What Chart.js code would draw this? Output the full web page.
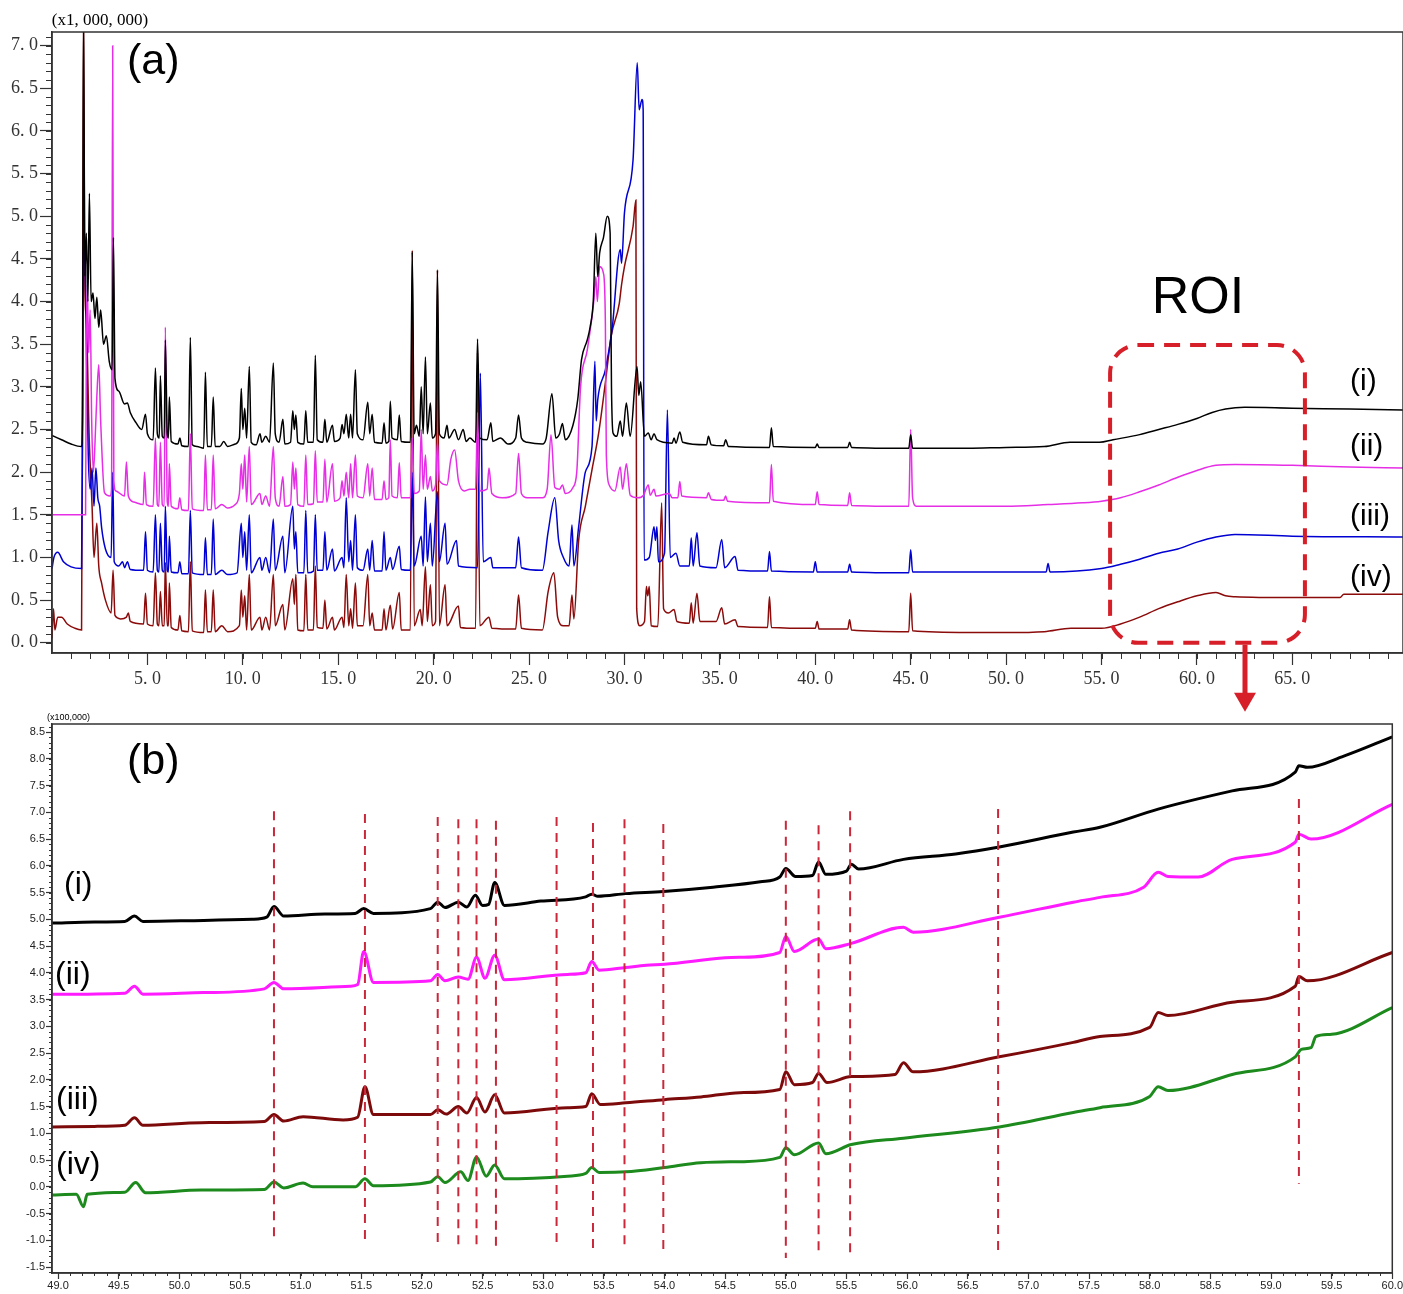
<!DOCTYPE html>
<html>
<head>
<meta charset="utf-8">
<script src="https://cdn.jsdelivr.net/npm/chart.js@4.4.1/dist/chart.umd.min.js"></script>
<style>
  body { margin: 0; background: #fff; }
  #wrap { position: relative; width: 1403px; height: 1294px; }
  #chartA { position: absolute; left: 0; top: 0; }
  #chartB { position: absolute; left: 0; top: 700px; }
</style>
</head>
<body>
<div id="wrap">
  <canvas id="chartA" width="1403" height="720"></canvas>
  <canvas id="chartB" width="1403" height="594"></canvas>
</div>
<script>
// ---------- (a) full chromatogram, retention time [min] vs intensity (x1,000,000) ----------
var xTicksA = [5, 10, 15, 20, 25, 30, 35, 40, 45, 50, 55, 60, 65];
var yTicksA = [0, 0.5, 1, 1.5, 2, 2.5, 3, 3.5, 4, 4.5, 5, 5.5, 6, 6.5, 7];

var traceA_i = [[0,2.43],[0.5,2.38],[1.0,2.33],[1.55,2.3],[1.6,2.7],[1.65,7.4],[1.72,4.3],[1.8,4.8],[1.88,4.0],[1.96,5.27],[2.05,4.0],[2.15,4.1],[2.25,3.8],[2.35,4.05],[2.45,3.7],[2.55,3.9],[2.7,3.5],[2.85,3.6],[3.0,3.3],[3.15,3.2],[3.22,4.75],[3.3,3.1],[3.5,2.95],[3.8,2.8],[3.95,2.81],[4.1,2.7],[4.4,2.58],[4.7,2.5],[4.9,2.68],[5.0,2.45],[5.3,2.38],[5.42,3.22],[5.52,2.45],[5.62,2.4],[5.68,3.13],[5.78,2.42],[5.88,2.4],[5.94,3.55],[6.04,2.45],[6.1,2.4],[6.15,2.88],[6.25,2.36],[6.6,2.33],[6.7,2.4],[6.8,2.31],[7.15,2.3],[7.25,3.58],[7.35,2.32],[7.6,2.3],[7.95,2.28],[8.04,3.17],[8.14,2.3],[8.35,2.3],[8.45,2.88],[8.55,2.3],[8.8,2.3],[9.0,2.36],[9.2,2.3],[9.6,2.33],[9.82,2.4],[9.92,2.98],[10.0,2.5],[10.1,2.75],[10.2,2.4],[10.34,3.24],[10.44,2.35],[10.7,2.32],[10.9,2.45],[11.0,2.35],[11.2,2.42],[11.4,2.35],[11.6,3.28],[11.7,2.45],[11.9,2.35],[12.1,2.62],[12.2,2.33],[12.5,2.35],[12.62,2.72],[12.7,2.5],[12.78,2.67],[12.88,2.35],[13.2,2.33],[13.3,2.72],[13.4,2.35],[13.7,2.35],[13.8,3.37],[13.9,2.38],[14.2,2.35],[14.3,2.62],[14.4,2.35],[14.7,2.55],[14.8,2.36],[15.1,2.4],[15.2,2.56],[15.3,2.45],[15.42,2.68],[15.55,2.4],[15.65,2.68],[15.75,2.4],[15.9,3.2],[16.0,2.45],[16.3,2.38],[16.55,2.82],[16.65,2.45],[16.78,2.68],[16.9,2.35],[17.3,2.34],[17.4,2.58],[17.5,2.34],[17.65,2.36],[17.73,2.83],[17.82,2.4],[18.1,2.38],[18.2,2.67],[18.3,2.36],[18.78,2.35],[18.88,4.58],[18.98,2.45],[19.1,2.55],[19.25,2.42],[19.35,3.0],[19.45,2.45],[19.57,3.35],[19.67,2.45],[19.83,2.81],[19.93,2.4],[20.1,2.45],[20.2,4.37],[20.3,2.45],[20.55,2.4],[20.7,2.55],[20.8,2.4],[21.1,2.5],[21.3,2.38],[21.55,2.5],[21.7,2.36],[21.9,2.4],[22.2,2.35],[22.3,3.56],[22.42,2.4],[22.8,2.38],[23.0,2.58],[23.1,2.36],[23.5,2.4],[23.9,2.33],[24.3,2.4],[24.45,2.67],[24.6,2.4],[24.9,2.35],[25.7,2.33],[25.9,2.4],[26.2,2.92],[26.4,2.4],[26.6,2.45],[26.75,2.57],[26.9,2.38],[27.3,2.55],[27.55,2.85],[27.75,3.32],[28.05,3.55],[28.2,3.7],[28.37,4.02],[28.5,4.8],[28.6,4.29],[28.7,4.57],[28.9,4.75],[29.1,5.0],[29.25,4.8],[29.32,3.0],[29.4,2.46],[29.6,2.42],[29.78,2.6],[29.9,2.42],[30.1,2.81],[30.3,2.42],[30.66,3.24],[30.75,2.9],[30.85,3.06],[31.05,2.42],[31.25,2.46],[31.4,2.38],[31.55,2.45],[31.7,2.38],[32.5,2.34],[32.6,2.4],[32.7,2.34],[32.9,2.47],[33.05,2.35],[34.3,2.32],[34.4,2.42],[34.55,2.32],[35.2,2.31],[35.3,2.38],[35.45,2.3],[37.6,2.29],[37.7,2.52],[37.8,2.3],[40.0,2.29],[40.1,2.33],[40.2,2.29],[41.7,2.29],[41.8,2.35],[41.9,2.29],[44.9,2.28],[45.0,2.44],[45.1,2.28],[48.0,2.28],[50.0,2.29],[52.0,2.3],[53.35,2.35],[54.9,2.35],[55.6,2.38],[57.0,2.44],[58.0,2.5],[59.0,2.56],[60.0,2.63],[60.8,2.7],[61.5,2.74],[62.5,2.76],[65.0,2.75],[68.0,2.74],[70.8,2.73]];

var traceA_ii = [[0,1.5],[1.76,1.5],[1.8,3.5],[1.85,4.2],[1.92,3.4],[2.0,3.9],[2.08,2.6],[2.17,2.0],[2.28,2.5],[2.35,2.89],[2.45,3.26],[2.55,2.6],[2.75,1.76],[3.05,1.72],[3.12,1.8],[3.18,7.0],[3.24,1.9],[3.35,1.78],[3.8,1.72],[3.9,2.12],[4.0,1.72],[4.3,1.65],[4.78,1.62],[4.85,2.0],[4.95,1.62],[5.3,1.6],[5.42,2.4],[5.52,1.62],[5.6,1.6],[5.68,2.35],[5.78,1.62],[5.88,1.6],[5.94,3.7],[6.04,1.65],[6.1,1.6],[6.15,2.1],[6.25,1.6],[6.6,1.57],[6.7,1.7],[6.8,1.56],[7.15,1.55],[7.25,2.45],[7.35,1.57],[7.95,1.55],[8.04,2.2],[8.14,1.56],[8.35,1.56],[8.45,2.2],[8.55,1.57],[8.9,1.62],[9.2,1.58],[9.6,1.62],[9.82,1.75],[9.92,2.1],[10.0,1.8],[10.1,2.2],[10.2,1.65],[10.34,2.3],[10.44,1.62],[10.9,1.75],[11.0,1.62],[11.2,1.72],[11.4,1.6],[11.6,2.3],[11.7,1.7],[11.9,1.6],[12.1,1.95],[12.2,1.6],[12.5,1.62],[12.62,2.12],[12.7,1.8],[12.78,2.05],[12.88,1.62],[13.2,1.6],[13.3,2.2],[13.4,1.62],[13.7,1.63],[13.8,2.25],[13.9,1.65],[14.2,1.65],[14.3,2.15],[14.4,1.65],[14.7,2.1],[14.8,1.66],[15.1,1.7],[15.2,1.9],[15.3,1.72],[15.42,2.0],[15.55,1.7],[15.65,2.1],[15.75,1.7],[15.9,2.2],[16.0,1.72],[16.3,1.7],[16.55,2.1],[16.65,1.72],[16.78,2.05],[16.9,1.68],[17.3,1.68],[17.4,1.9],[17.5,1.68],[17.65,1.7],[17.73,2.38],[17.82,1.72],[18.1,1.7],[18.2,2.11],[18.3,1.7],[18.78,1.7],[18.88,2.4],[18.98,1.75],[19.25,1.78],[19.35,2.5],[19.45,1.8],[19.57,2.2],[19.67,1.8],[19.83,1.95],[19.93,1.78],[20.1,1.85],[20.2,2.35],[20.3,1.9],[20.7,1.85],[20.9,2.15],[21.1,2.26],[21.3,1.9],[21.6,1.78],[21.9,1.8],[22.2,1.8],[22.3,2.7],[22.42,1.78],[22.8,1.8],[22.9,2.05],[23.05,1.75],[23.6,1.7],[24.3,1.75],[24.45,2.22],[24.6,1.75],[24.9,1.7],[25.7,1.7],[25.95,1.8],[26.15,2.44],[26.35,1.82],[26.6,1.8],[26.75,1.85],[26.9,1.75],[27.3,1.82],[27.5,2.0],[27.7,3.0],[28.05,3.43],[28.4,4.02],[28.5,4.29],[28.58,4.0],[28.7,4.41],[28.9,4.33],[29.0,3.75],[29.05,2.2],[29.2,1.85],[29.5,1.78],[29.78,2.06],[29.9,1.8],[30.1,2.1],[30.3,1.73],[30.7,1.7],[31.0,1.73],[31.25,1.85],[31.35,1.73],[31.55,1.8],[31.65,1.72],[32.35,1.75],[32.5,1.7],[32.8,1.7],[32.9,1.89],[33.0,1.72],[34.3,1.7],[34.4,1.76],[34.55,1.68],[35.2,1.67],[35.3,1.72],[35.4,1.66],[37.6,1.64],[37.7,2.09],[37.8,1.66],[40.0,1.62],[40.1,1.77],[40.2,1.62],[41.7,1.61],[41.8,1.76],[41.9,1.61],[44.9,1.6],[45.0,2.5],[45.1,1.7],[45.3,1.6],[48.0,1.6],[50.0,1.6],[52.2,1.62],[54.0,1.64],[55.0,1.66],[56.0,1.7],[57.0,1.77],[58.0,1.85],[59.0,1.94],[60.0,2.02],[61.0,2.08],[62.0,2.09],[65.0,2.08],[68.0,2.06],[70.8,2.05]];

var traceA_iii = [[0,0.87],[0.1,1.0],[0.3,1.06],[0.6,0.95],[1.0,0.89],[1.55,0.87],[1.6,2.5],[1.65,4.85],[1.72,4.7],[1.8,3.5],[1.9,2.2],[2.0,1.8],[2.1,2.05],[2.2,1.6],[2.3,2.05],[2.4,1.7],[2.5,1.6],[2.6,1.35],[2.8,1.1],[3.1,1.0],[3.18,2.0],[3.26,0.95],[3.5,0.9],[3.7,0.95],[3.8,0.88],[3.95,0.95],[4.1,0.86],[4.8,0.85],[4.9,1.3],[5.0,0.85],[5.3,0.83],[5.42,1.5],[5.52,0.85],[5.6,0.83],[5.68,1.4],[5.78,0.85],[5.88,0.83],[5.94,1.6],[6.04,0.85],[6.1,0.83],[6.15,1.25],[6.25,0.83],[6.6,0.82],[6.7,0.95],[6.8,0.81],[7.15,0.81],[7.25,1.55],[7.35,0.82],[7.95,0.8],[8.04,1.23],[8.14,0.8],[8.35,0.8],[8.45,1.45],[8.55,0.8],[8.9,0.85],[9.2,0.8],[9.7,0.82],[9.92,1.4],[10.0,1.0],[10.1,1.3],[10.2,0.85],[10.34,1.5],[10.44,0.82],[10.9,1.0],[11.0,0.85],[11.2,1.0],[11.4,0.82],[11.6,1.45],[11.7,0.85],[12.1,1.25],[12.2,0.82],[12.62,1.6],[12.7,1.1],[12.78,1.3],[12.88,0.82],[13.2,0.82],[13.3,1.55],[13.4,0.82],[13.7,0.84],[13.8,1.5],[13.9,0.85],[14.2,0.85],[14.3,1.3],[14.4,0.85],[14.7,1.1],[14.8,0.84],[15.2,1.0],[15.3,0.88],[15.42,1.7],[15.55,0.95],[15.65,1.2],[15.75,0.85],[15.9,1.5],[16.0,0.88],[16.3,0.85],[16.55,1.1],[16.65,0.85],[16.78,1.2],[16.9,0.84],[17.3,0.84],[17.4,1.3],[17.5,0.85],[17.73,1.0],[17.85,0.86],[18.2,1.13],[18.3,0.86],[18.78,0.85],[18.88,2.0],[18.98,0.9],[19.35,1.25],[19.45,0.9],[19.57,1.71],[19.67,0.95],[19.83,1.4],[19.93,0.9],[20.2,1.77],[20.3,0.95],[20.6,1.4],[20.7,0.92],[21.2,1.2],[21.3,0.9],[22.3,0.88],[22.45,3.16],[22.6,0.95],[23.0,1.0],[23.1,0.88],[24.3,0.88],[24.45,1.24],[24.6,0.88],[25.7,0.85],[26.0,1.3],[26.35,1.7],[26.55,1.2],[26.8,1.0],[27.1,0.9],[27.25,1.38],[27.35,0.9],[27.6,1.36],[27.95,2.0],[28.3,2.3],[28.45,3.3],[28.52,2.6],[28.6,2.85],[29.0,3.2],[29.35,3.67],[29.78,4.61],[29.85,4.45],[30.0,5.04],[30.45,5.66],[30.67,6.8],[30.77,6.25],[30.92,6.37],[30.98,6.25],[31.03,0.97],[31.3,1.0],[31.55,1.36],[31.62,1.2],[31.7,1.36],[31.78,0.95],[32.1,1.05],[32.25,2.73],[32.4,1.0],[32.7,1.05],[32.9,0.9],[33.4,0.9],[33.5,1.23],[33.6,0.9],[33.8,1.29],[33.95,0.9],[34.8,0.88],[35.1,1.21],[35.25,0.88],[35.8,1.01],[35.95,0.85],[37.5,0.84],[37.6,1.07],[37.7,0.84],[39.9,0.83],[40.0,0.95],[40.1,0.83],[41.7,0.83],[41.8,0.92],[41.9,0.83],[44.9,0.82],[45.0,1.09],[45.1,0.83],[48.0,0.83],[52.1,0.83],[52.2,0.93],[52.3,0.83],[55.0,0.87],[56.0,0.92],[57.0,0.98],[58.0,1.05],[59.0,1.1],[60.0,1.18],[61.0,1.24],[62.0,1.27],[65.0,1.25],[70.8,1.24]];

var traceA_iv = [[0,0.05],[0.08,0.4],[0.15,0.15],[0.3,0.3],[0.5,0.3],[0.8,0.22],[1.2,0.17],[1.55,0.15],[1.6,3.0],[1.65,7.4],[1.72,4.2],[1.8,3.8],[1.95,2.4],[2.1,1.6],[2.2,1.0],[2.35,1.4],[2.45,0.9],[2.6,0.7],[2.8,0.5],[3.1,0.35],[3.2,0.85],[3.3,0.32],[3.6,0.28],[3.9,0.3],[4.0,0.35],[4.1,0.25],[4.8,0.22],[4.9,0.58],[5.0,0.22],[5.3,0.2],[5.42,0.82],[5.52,0.22],[5.6,0.2],[5.68,0.6],[5.78,0.2],[5.88,0.2],[5.94,0.94],[6.04,0.2],[6.1,0.2],[6.15,0.7],[6.25,0.18],[6.6,0.15],[6.7,0.32],[6.8,0.14],[7.15,0.13],[7.25,0.95],[7.35,0.14],[7.95,0.12],[8.04,0.62],[8.14,0.13],[8.35,0.13],[8.45,0.62],[8.55,0.13],[8.9,0.2],[9.2,0.13],[9.82,0.2],[9.92,0.62],[10.0,0.3],[10.1,0.55],[10.2,0.15],[10.34,0.8],[10.44,0.15],[10.9,0.3],[11.0,0.15],[11.2,0.3],[11.4,0.15],[11.6,0.8],[11.7,0.2],[12.1,0.45],[12.2,0.15],[12.62,0.75],[12.7,0.45],[12.78,0.8],[12.88,0.15],[13.2,0.14],[13.3,0.8],[13.4,0.15],[13.7,0.15],[13.8,0.9],[13.9,0.18],[14.2,0.17],[14.3,0.5],[14.4,0.16],[14.7,0.3],[14.8,0.15],[15.2,0.3],[15.3,0.18],[15.42,0.8],[15.55,0.2],[15.65,0.4],[15.75,0.17],[15.9,0.7],[16.0,0.2],[16.3,0.2],[16.55,0.8],[16.65,0.2],[16.78,0.35],[16.9,0.15],[17.3,0.15],[17.4,0.4],[17.5,0.15],[17.73,0.44],[17.85,0.16],[18.2,0.59],[18.3,0.15],[18.78,0.15],[18.88,4.6],[18.98,0.2],[19.3,0.39],[19.4,0.2],[19.57,0.89],[19.67,0.25],[19.83,0.68],[19.93,0.2],[20.1,0.25],[20.2,4.37],[20.3,0.2],[20.6,0.68],[20.7,0.2],[21.3,0.43],[21.4,0.18],[22.2,0.17],[22.3,3.4],[22.42,0.2],[22.9,0.3],[23.05,0.17],[24.3,0.16],[24.45,0.56],[24.6,0.17],[25.7,0.15],[26.0,0.6],[26.3,0.82],[26.5,0.3],[26.8,0.2],[27.1,0.2],[27.25,0.56],[27.35,0.28],[27.6,1.2],[27.95,1.6],[28.3,2.03],[28.65,2.46],[29.0,3.05],[29.3,3.59],[29.73,3.98],[29.85,4.2],[30.0,4.41],[30.45,4.88],[30.6,5.19],[30.64,0.4],[30.8,0.2],[31.05,0.25],[31.15,0.66],[31.22,0.55],[31.3,0.66],[31.4,0.2],[31.75,0.19],[31.95,1.64],[32.05,0.4],[32.3,0.35],[32.6,0.39],[32.75,0.25],[33.4,0.23],[33.5,0.47],[33.6,0.23],[33.8,0.58],[33.95,0.25],[34.8,0.25],[35.1,0.41],[35.25,0.22],[35.8,0.27],[35.95,0.19],[37.5,0.18],[37.6,0.54],[37.7,0.18],[40.0,0.17],[40.1,0.25],[40.2,0.16],[41.7,0.16],[41.8,0.27],[41.9,0.15],[44.9,0.13],[45.0,0.58],[45.1,0.14],[48.0,0.12],[50.0,0.12],[52.0,0.13],[53.4,0.17],[55.0,0.17],[56.0,0.22],[57.0,0.3],[58.0,0.4],[59.0,0.48],[60.0,0.55],[61.0,0.59],[61.5,0.55],[62.0,0.54],[65.0,0.53],[67.5,0.53],[67.7,0.57],[70.8,0.57]];

// ROI region of (a): time range and intensity range
var roiTime = [55.45, 65.66];
var roiLevel = [0.0, 3.49];

// ---------- (b) zoom of the ROI, intensity (x100,000) ----------
var xTicksB = [49, 49.5, 50, 50.5, 51, 51.5, 52, 52.5, 53, 53.5, 54, 54.5, 55, 55.5, 56, 56.5, 57, 57.5, 58, 58.5, 59, 59.5, 60];
var yTicksB = [-1.5, -1, -0.5, 0, 0.5, 1, 1.5, 2, 2.5, 3, 3.5, 4, 4.5, 5, 5.5, 6, 6.5, 7, 7.5, 8, 8.5];

var traceB_i = [[48.95,4.93],[49.3,4.95],[49.55,4.96],[49.63,5.06],[49.7,4.96],[50.2,4.98],[50.6,5.0],[50.72,5.04],[50.78,5.24],[50.86,5.06],[51.2,5.1],[51.45,5.11],[51.52,5.2],[51.6,5.11],[52.07,5.2],[52.13,5.32],[52.19,5.22],[52.3,5.32],[52.37,5.23],[52.44,5.45],[52.5,5.26],[52.55,5.28],[52.6,5.69],[52.68,5.26],[52.98,5.34],[53.35,5.42],[53.4,5.47],[53.45,5.43],[53.68,5.48],[53.99,5.52],[54.4,5.6],[54.79,5.7],[54.95,5.79],[55.0,5.95],[55.08,5.8],[55.22,5.82],[55.27,6.07],[55.33,5.84],[55.5,5.9],[55.54,6.03],[55.6,5.94],[55.97,6.12],[56.4,6.22],[56.76,6.35],[57.37,6.63],[57.59,6.72],[58.07,7.06],[58.68,7.4],[59.2,7.75],[59.23,7.87],[59.3,7.84],[59.6,8.05],[60.0,8.41]];

var traceB_ii = [[48.95,3.6],[49.55,3.62],[49.63,3.75],[49.7,3.6],[50.2,3.63],[50.7,3.7],[50.78,3.82],[50.86,3.7],[51.41,3.75],[51.47,3.78],[51.52,4.4],[51.6,3.82],[52.07,3.85],[52.13,3.97],[52.19,3.85],[52.3,3.92],[52.38,3.88],[52.45,4.29],[52.52,3.9],[52.6,4.33],[52.68,3.87],[53.2,3.97],[53.35,4.0],[53.4,4.21],[53.46,4.05],[53.68,4.1],[53.85,4.14],[54.0,4.16],[54.5,4.28],[54.62,4.29],[54.95,4.38],[55.0,4.68],[55.07,4.4],[55.27,4.63],[55.33,4.45],[55.54,4.55],[55.97,4.85],[56.05,4.76],[56.76,5.04],[57.37,5.32],[57.59,5.41],[57.95,5.6],[58.07,5.88],[58.15,5.8],[58.4,5.79],[58.68,6.12],[59.2,6.44],[59.23,6.59],[59.33,6.5],[60.0,7.15]];

var traceB_iii = [[48.95,1.12],[49.3,1.13],[49.55,1.15],[49.63,1.29],[49.7,1.15],[50.18,1.2],[50.7,1.22],[50.78,1.35],[50.86,1.23],[51.02,1.31],[51.35,1.25],[51.47,1.3],[51.53,1.87],[51.6,1.35],[52.07,1.35],[52.13,1.44],[52.2,1.36],[52.3,1.5],[52.37,1.38],[52.45,1.67],[52.52,1.4],[52.6,1.72],[52.68,1.38],[53.2,1.48],[53.35,1.5],[53.4,1.74],[53.47,1.54],[53.68,1.57],[54.0,1.63],[54.3,1.68],[54.62,1.76],[54.95,1.82],[55.0,2.15],[55.07,1.91],[55.22,1.95],[55.27,2.12],[55.34,1.95],[55.54,2.06],[55.9,2.1],[55.97,2.32],[56.05,2.15],[56.76,2.43],[57.37,2.7],[57.59,2.81],[58.0,2.98],[58.07,3.26],[58.15,3.2],[58.68,3.45],[59.2,3.75],[59.23,3.93],[59.3,3.85],[60.0,4.38]];

var traceB_iv = [[48.95,-0.15],[49.15,-0.14],[49.21,-0.37],[49.24,-0.14],[49.55,-0.1],[49.64,0.08],[49.72,-0.11],[50.18,-0.06],[50.7,-0.05],[50.78,0.09],[50.86,-0.02],[51.02,0.07],[51.1,0.0],[51.45,0.0],[51.53,0.15],[51.6,0.02],[52.07,0.09],[52.13,0.19],[52.19,0.08],[52.32,0.28],[52.38,0.12],[52.45,0.56],[52.53,0.2],[52.6,0.41],[52.68,0.15],[53.2,0.2],[53.35,0.25],[53.4,0.36],[53.46,0.27],[53.68,0.28],[54.0,0.36],[54.3,0.45],[54.62,0.47],[54.95,0.55],[55.0,0.73],[55.07,0.6],[55.27,0.82],[55.33,0.62],[55.54,0.79],[55.97,0.91],[56.76,1.12],[57.37,1.39],[57.59,1.48],[58.0,1.69],[58.07,1.87],[58.15,1.8],[58.68,2.1],[59.2,2.43],[59.25,2.57],[59.33,2.6],[59.37,2.81],[59.5,2.85],[60.0,3.35]];

// marked retention times in (b), with the extent of each dashed marker
var markTimes   = [50.78, 51.53, 52.13, 52.3, 52.45, 52.61, 53.11, 53.41, 53.67, 53.99, 55.0, 55.27, 55.53, 56.75, 59.23];
var markTops    = [7.02, 6.97, 6.91, 6.87, 6.87, 6.84, 6.91, 6.8, 6.87, 6.78, 6.84, 6.76, 7.02, 7.06, 7.25];
var markBottoms = [-0.99, -1.09, -1.09, -1.12, -1.12, -1.12, -1.05, -1.22, -1.14, -1.22, -1.33, -1.27, -1.31, -1.22, 0.06];

function pts(arr) {
    return arr.map(function (p) { return { x: p[0], y: p[1] }; });
}

function lineSet(arr, color, width) {
    return {
        data: pts(arr), borderColor: color, borderWidth: width, pointRadius: 0,
        cubicInterpolationMode: 'monotone', fill: false
    };
}

// small ticks between the labelled ones
var minorTicks = {
    id: 'minorTicks',
    afterDraw: function (chart, args, opts) {
        var ctx = chart.ctx, xs = chart.scales.x, ys = chart.scales.y;
        ctx.save();
        ctx.strokeStyle = '#333';
        ctx.lineWidth = 1;
        var i, v, p;
        var nx = Math.round((opts.xTo - opts.xFrom) / opts.xStep);
        for (i = 0; i <= nx; i++) {
            v = opts.xFrom + i * opts.xStep;
            p = Math.round(xs.getPixelForValue(v)) + 0.5;
            ctx.beginPath(); ctx.moveTo(p, xs.top); ctx.lineTo(p, xs.top + opts.len); ctx.stroke();
        }
        var ny = Math.round((opts.yTo - opts.yFrom) / opts.yStep);
        for (i = 0; i <= ny; i++) {
            v = opts.yFrom + i * opts.yStep;
            p = Math.round(ys.getPixelForValue(v)) + 0.5;
            ctx.beginPath(); ctx.moveTo(ys.right, p); ctx.lineTo(ys.right - opts.len, p); ctx.stroke();
        }
        ctx.restore();
    }
};

// frame + text + ROI annotations
var decor = {
    id: 'decor',
    afterDraw: function (chart, args, opts) {
        var ctx = chart.ctx, a = chart.chartArea, xs = chart.scales.x, ys = chart.scales.y;
        ctx.save();
        ctx.strokeStyle = '#333';
        ctx.lineWidth = 1.5;
        ctx.strokeRect(a.left, a.top, a.right - a.left, a.bottom - a.top);
        if (opts.roi) {
            var x1 = xs.getPixelForValue(roiTime[0]), x2 = xs.getPixelForValue(roiTime[1]);
            var y1 = ys.getPixelForValue(roiLevel[1]), y2 = ys.getPixelForValue(roiLevel[0]);
            ctx.strokeStyle = '#d61f28';
            ctx.lineWidth = 4;
            ctx.setLineDash([16, 10]);
            ctx.beginPath();
            ctx.roundRect(x1, y1, x2 - x1, y2 - y1, 28);
            ctx.stroke();
            ctx.setLineDash([]);
            // arrow pointing to panel (b)
            var ax = xs.getPixelForValue(62.52);
            ctx.fillStyle = '#d61f28';
            ctx.fillRect(ax - 2.5, y2 + 2, 5, 52);
            ctx.beginPath();
            ctx.moveTo(ax - 11, y2 + 50);
            ctx.lineTo(ax + 11, y2 + 50);
            ctx.lineTo(ax, y2 + 69);
            ctx.closePath();
            ctx.fill();
        }
        ctx.fillStyle = '#000';
        ctx.textBaseline = 'middle';
        opts.texts.forEach(function (t) {
            ctx.font = t.font;
            ctx.textAlign = t.align || 'left';
            ctx.fillText(t.text, t.x, t.y);
        });
        ctx.restore();
    }
};

var serif = "'Liberation Serif', 'DejaVu Serif', serif";
var sans = "'Liberation Sans', Arial, sans-serif";

new Chart(document.getElementById('chartA'), {
    type: 'line',
    data: {
        datasets: [
            lineSet(traceA_i, '#000000', 1.5),
            lineSet(traceA_ii, '#e62ee6', 1.5),
            lineSet(traceA_iii, '#0000d2', 1.5),
            lineSet(traceA_iv, '#8b0a0a', 1.5)
        ]
    },
    options: {
        responsive: false,
        animation: false,
        layout: { padding: { top: 32, right: 0, left: 0, bottom: 0 } },
        plugins: {
            legend: { display: false },
            tooltip: { enabled: false },
            minorTicks: { xFrom: 1, xTo: 70, xStep: 1, yFrom: 0, yTo: 7.1, yStep: 0.1, len: 6 },
            decor: {
                roi: true,
                texts: [
                    { text: '(x1, 000, 000)', x: 100, y: 21, font: '17px ' + serif, align: 'center' },
                    { text: '(a)', x: 127, y: 62, font: '43px ' + sans },
                    { text: 'ROI', x: 1198, y: 299, font: '52px ' + sans, align: 'center' },
                    { text: '(i)', x: 1350, y: 382, font: '30px ' + sans },
                    { text: '(ii)', x: 1350, y: 447, font: '30px ' + sans },
                    { text: '(iii)', x: 1350, y: 517, font: '30px ' + sans },
                    { text: '(iv)', x: 1350, y: 578, font: '30px ' + sans }
                ]
            }
        },
        scales: {
            x: {
                type: 'linear', min: 0, max: 70.8,
                afterFit: function (s) { s.height = 67; },
                afterBuildTicks: function (s) { s.ticks = xTicksA.map(function (v) { return { value: v }; }); },
                ticks: {
                    autoSkip: false, maxRotation: 0, padding: 3, color: '#333',
                    font: { family: serif, size: 18 },
                    callback: function (v) { return v.toFixed(1).replace('.', '. '); }
                },
                grid: { drawOnChartArea: false, tickLength: 12, color: '#333', tickWidth: 1.2 },
                border: { color: '#333', width: 1.5 }
            },
            y: {
                type: 'linear', min: -0.12, max: 7.16,
                afterFit: function (s) { s.width = 52; },
                afterBuildTicks: function (s) { s.ticks = yTicksA.map(function (v) { return { value: v }; }); },
                ticks: {
                    padding: 2, color: '#333',
                    font: { family: serif, size: 18 },
                    callback: function (v) { return v.toFixed(1).replace('.', '. '); }
                },
                grid: { drawOnChartArea: false, tickLength: 12, color: '#333', tickWidth: 1.2 },
                border: { color: '#333', width: 1.5 }
            }
        }
    },
    plugins: [minorTicks, decor]
});

var markSets = markTimes.map(function (t, i) {
    return {
        data: [{ x: t, y: markTops[i] }, { x: t, y: markBottoms[i] }],
        borderColor: '#c8283a', borderWidth: 2, borderDash: [9, 7],
        pointRadius: 0, fill: false, order: -1
    };
});

new Chart(document.getElementById('chartB'), {
    type: 'line',
    data: {
        datasets: [
            lineSet(traceB_i, '#000000', 3),
            lineSet(traceB_ii, '#ff1aff', 3),
            lineSet(traceB_iii, '#7d0a0a', 3),
            lineSet(traceB_iv, '#1c8a1c', 3)
        ].concat(markSets)
    },
    options: {
        responsive: false,
        animation: false,
        layout: { padding: { top: 24, right: 8, left: 0, bottom: 0 } },
        plugins: {
            legend: { display: false },
            tooltip: { enabled: false },
            minorTicks: { xFrom: 49, xTo: 60, xStep: 0.1, yFrom: -1.6, yTo: 8.6, yStep: 0.1, len: 3 },
            decor: {
                roi: false,
                texts: [
                    { text: '(x100,000)', x: 47, y: 18, font: '9px ' + sans },
                    { text: '(b)', x: 127, y: 62, font: '43px ' + sans },
                    { text: '(i)', x: 64, y: 185, font: '32px ' + sans },
                    { text: '(ii)', x: 55, y: 275, font: '32px ' + sans },
                    { text: '(iii)', x: 56, y: 400, font: '32px ' + sans },
                    { text: '(iv)', x: 56, y: 465, font: '32px ' + sans }
                ]
            }
        },
        scales: {
            x: {
                type: 'linear', min: 48.95, max: 60.0,
                afterFit: function (s) { s.height = 21; },
                afterBuildTicks: function (s) { s.ticks = xTicksB.map(function (v) { return { value: v }; }); },
                ticks: {
                    autoSkip: false, maxRotation: 0, padding: 0, color: '#222',
                    font: { family: sans, size: 11 },
                    callback: function (v) { return v.toFixed(1); }
                },
                grid: { drawOnChartArea: false, tickLength: 6, color: '#333', tickWidth: 1.2 },
                border: { color: '#333', width: 1.5 }
            },
            y: {
                type: 'linear', min: -1.61, max: 8.65,
                afterFit: function (s) { s.width = 52; },
                afterBuildTicks: function (s) { s.ticks = yTicksB.map(function (v) { return { value: v }; }); },
                ticks: {
                    padding: 1, color: '#222',
                    font: { family: sans, size: 11 },
                    callback: function (v) { return v.toFixed(1); }
                },
                grid: { drawOnChartArea: false, tickLength: 6, color: '#333', tickWidth: 1.2 },
                border: { color: '#333', width: 1.5 }
            }
        }
    },
    plugins: [minorTicks, decor]
});
</script>
</body>
</html>
